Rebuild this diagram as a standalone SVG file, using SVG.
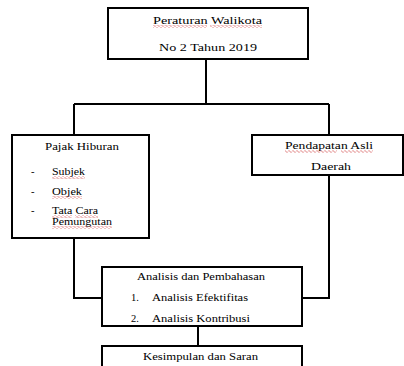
<svg xmlns="http://www.w3.org/2000/svg" width="404" height="366" viewBox="0 0 404 366" font-family="Liberation Serif, Times New Roman, serif" font-size="10.5">
<style>
.box{fill:#fff;stroke:#000;stroke-width:2}
.ln{fill:none;stroke:#000;stroke-width:2}
.sq{fill:url(#sq)}
</style>
<defs>
<pattern id="sq" width="4" height="3" patternUnits="userSpaceOnUse">
<path d="M0 1.5 L1 0.5 L3 2.5 L4 1.5" stroke="#d04040" fill="none" stroke-width="0.7"/>
</pattern>
</defs>
<rect width="404" height="366" fill="#fff"/>
<g id="connectors">
<path class="ln" d="M206 59 V104 M74 104 H329 M74 104 V135 M329 104 V135"/>
<path class="ln" d="M74 238 V298 H102 M329 175 V298 H302"/>
<path class="ln" d="M198 326 V346"/>
</g>
<g id="peraturan">
<rect class="box" x="108" y="8" width="200" height="51"/>
<text x="153" y="24" textLength="109" lengthAdjust="spacingAndGlyphs">Peraturan Walikota</text>
<text x="159" y="51" textLength="98" lengthAdjust="spacingAndGlyphs">No 2 Tahun 2019</text>
<rect class="sq" x="153" y="25" width="54" height="3"/>
<rect class="sq" x="210" y="25" width="52" height="3"/>
</g>
<g id="pajak">
<rect class="box" x="12" y="135" width="137" height="103"/>
<text x="45" y="150" textLength="74" lengthAdjust="spacingAndGlyphs">Pajak Hiburan</text>
<text x="31" y="175">-</text>
<text x="52" y="175" textLength="33" lengthAdjust="spacingAndGlyphs">Subjek</text>
<text x="31" y="195">-</text>
<text x="52" y="195" textLength="30" lengthAdjust="spacingAndGlyphs">Objek</text>
<text x="31" y="214">-</text>
<text x="52" y="214" textLength="46" lengthAdjust="spacingAndGlyphs">Tata Cara</text>
<text x="52" y="225" textLength="60" lengthAdjust="spacingAndGlyphs">Pemungutan</text>
<rect class="sq" x="52" y="176" width="33" height="3"/>
<rect class="sq" x="52" y="196" width="30" height="3"/>
<rect class="sq" x="52" y="215" width="20" height="3"/>
<rect class="sq" x="75" y="215" width="23" height="3"/>
<rect class="sq" x="52" y="226" width="60" height="3"/>
</g>
<g id="pendapatan">
<rect class="box" x="252" y="135" width="151" height="40"/>
<text x="285" y="149" textLength="88" lengthAdjust="spacingAndGlyphs">Pendapatan Asli</text>
<text x="311" y="170" textLength="40" lengthAdjust="spacingAndGlyphs">Daerah</text>
<rect class="sq" x="285" y="150" width="52" height="3"/>
<rect class="sq" x="341" y="150" width="32" height="3"/>
</g>
<g id="analisis">
<rect class="box" x="102" y="267" width="200" height="59"/>
<text x="137" y="280" textLength="128" lengthAdjust="spacingAndGlyphs">Analisis dan Pembahasan</text>
<text x="131" y="301">1.</text>
<text x="152" y="301" textLength="96" lengthAdjust="spacingAndGlyphs">Analisis Efektifitas</text>
<text x="131" y="322">2.</text>
<text x="152" y="322" textLength="98" lengthAdjust="spacingAndGlyphs">Analisis Kontribusi</text>
</g>
<g id="kesimpulan">
<rect class="box" x="102" y="346" width="200" height="40"/>
<text x="143" y="360" textLength="115" lengthAdjust="spacingAndGlyphs">Kesimpulan dan Saran</text>
</g>
</svg>
